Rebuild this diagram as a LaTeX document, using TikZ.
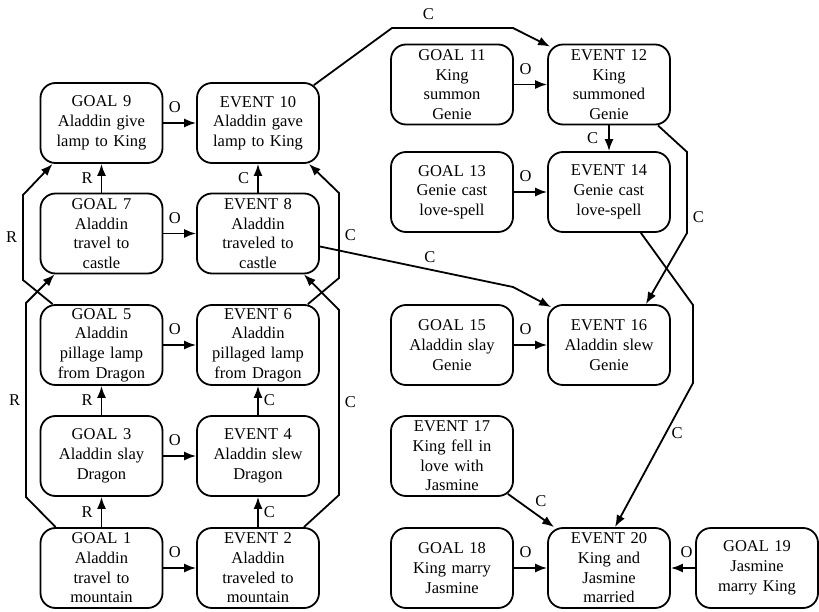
\documentclass[tikz,border=0pt]{standalone}
\usepackage{fontspec}
\setmainfont{Liberation Serif}
\usetikzlibrary{arrows.meta,positioning}

\tikzset{
  box/.style={draw, line width=1.8pt, rounded corners=15pt, minimum width=122pt, minimum height=80pt,
    inner sep=0pt, text width=120pt, align=center, font=\fontsize{16.5}{19.7}\selectfont},
  link/.style={line width=1.8pt, -{Latex[length=12pt,width=9pt]}},
  lbl/.style={inner sep=2pt, font=\fontsize{16.5}{19.7}\selectfont},
}

\begin{document}
\begin{tikzpicture}[x=1pt,y=-1pt]
\useasboundingbox (0,0) rectangle (819,612);
%% left half: the dragon and the lamp
\node[box] (g9) at (101.5,123) {GOAL 9\\Aladdin give\\lamp to King};
\node[box] (e10) at (258,123) {EVENT 10\\Aladdin gave\\lamp to King};
\node[box] (g7) at (101.5,233.5) {GOAL 7\\Aladdin\\travel to\\castle};
\node[box] (e8) at (258,233.5) {EVENT 8\\Aladdin\\traveled to\\castle};
\node[box] (g5) at (101.5,345) {GOAL 5\\Aladdin\\pillage lamp\\from Dragon};
\node[box] (e6) at (258,345) {EVENT 6\\Aladdin\\pillaged lamp\\from Dragon};
\node[box] (g3) at (101.5,456) {GOAL 3\\Aladdin slay\\Dragon};
\node[box] (e4) at (258,456) {EVENT 4\\Aladdin slew\\Dragon};
\node[box] (g1) at (101.5,568) {GOAL 1\\Aladdin\\travel to\\mountain};
\node[box] (e2) at (258,568) {EVENT 2\\Aladdin\\traveled to\\mountain};
%% right half: the king, the genie and jasmine
\node[box] (g11) at (452,84.5) {GOAL 11\\King\\summon\\Genie};
\node[box] (e12) at (609,84.5) {EVENT 12\\King\\summoned\\Genie};
\node[box] (g13) at (452,192) {GOAL 13\\Genie cast\\love-spell};
\node[box] (e14) at (609,192) {EVENT 14\\Genie cast\\love-spell};
\node[box] (g15) at (452,345) {GOAL 15\\Aladdin slay\\Genie};
\node[box] (e16) at (609,345) {EVENT 16\\Aladdin slew\\Genie};
\node[box] (e17) at (452,456) {EVENT 17\\King fell in\\love with\\Jasmine};
\node[box] (g18) at (452,568) {GOAL 18\\King marry\\Jasmine};
\node[box] (e20) at (609,568) {EVENT 20\\King and\\Jasmine\\married};
\node[box] (g19) at (757,568) {GOAL 19\\Jasmine\\marry King};

%% outcome links
\foreach \g/\e in {g9/e10,g7/e8,g5/e6,g3/e4,g1/e2,g11/e12,g13/e14,g15/e16,g18/e20,g19/e20}{
	\draw[link] (\g) -- node[lbl,pos=0.35,above=7pt] {O} (\e);
}
%% straight R and C links
\draw[link] (g1.north) -- node[lbl,left=6pt] {R} (g3.south);
\draw[link] (g3.north) -- node[lbl,left=6pt] {R} (g5.south);
\draw[link] (g7.north) -- node[lbl,left=6pt] {R} (g9.south);
\draw[link] (e2.north) -- node[lbl,right=3pt] {C} (e4.south);
\draw[link] (e4.north) -- node[lbl,right=3pt] {C} (e6.south);
\draw[link] (e8.north) -- node[lbl,left=6pt] {C} (e10.south);
\draw[link] (e12.south) -- node[lbl,left=8pt] {C} (e14.north);
%% bent links
\draw[link] ([xshift=16pt]g1.north west) -- (26,497) -- node[lbl,left=3pt] {R} (26,303) -- ([xshift=15pt]g7.south west);
\draw[link] ([xshift=13pt]g5.north west) -- (23,280) -- node[lbl,left=3pt] {R} (23,195) -- ([xshift=13pt]g9.south west);
\draw[link] ([xshift=-16pt]e2.north east) -- (339,495) -- node[lbl,right=3pt] {C} (339,310) -- ([xshift=-16pt]e8.south east);
\draw[link] ([xshift=-12pt]e6.north east) -- (339,278) -- node[lbl,right=3pt] {C} (339,193) -- ([xshift=-11pt]e10.south east);
\draw[link] ([xshift=-6pt,yshift=-3pt]e10.north east) -- (392,28) -- node[lbl,pos=0.3,above=5pt] {C} (513,28) -- ([xshift=3pt,yshift=-3pt]e12.north west);
\draw[link] ([yshift=-13pt]e8.east) -- node[lbl,pos=0.57,above=4pt] {C} (513,287) -- ([xshift=4pt,yshift=-3pt]e16.north west);
\draw[link] ([xshift=-13pt]e12.south east) -- (687,152) -- node[lbl,pos=0.8,right=3pt] {C} (687,233) -- ([xshift=-25pt]e16.north east);
\draw[link] ([xshift=-30pt]e14.south east) -- (693,305) -- (693,383) -- node[lbl,pos=0.35,right=3pt] {C} ([xshift=6pt]e20.north);
\draw[link] ([xshift=-6pt,yshift=3pt]e17.south east) -- node[lbl,above right=2pt] {C} ([xshift=7pt]e20.north west);
\end{tikzpicture}
\end{document}
